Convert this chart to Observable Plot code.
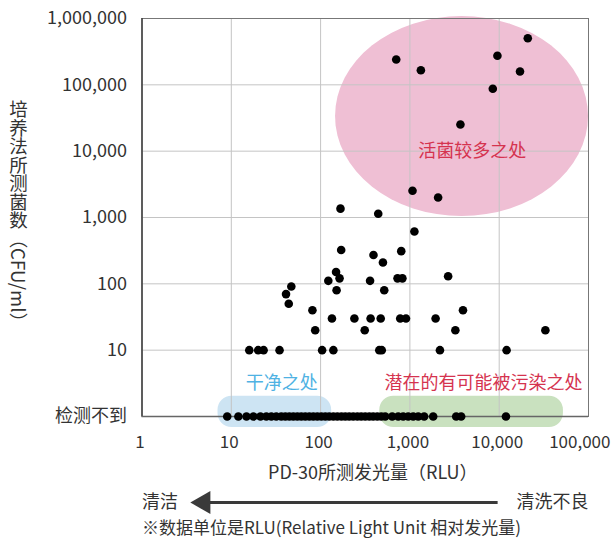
<!DOCTYPE html>
<html><head><meta charset="utf-8">
<script src="https://cdn.jsdelivr.net/npm/d3@7"></script>
<script src="https://cdn.jsdelivr.net/npm/@observablehq/plot@0.6"></script>
<style>
body{margin:0;background:#fff;}
#chart svg{display:block;overflow:visible;}
</style></head><body><div id="chart"></div>
<script>
const FONT = '"Noto Sans CJK SC","Noto Sans",sans-serif';

// axis ticks
const xTicks = [1, 10, 100, 1000, 10000, 100000];
const yTicks = [1, 10, 100, 1000, 10000, 100000, 1000000];
const notDetectedLabel = "检测不到";

// detected samples: RLU (x) vs CFU/ml (y)
const detectedRLU = [703, 1327, 9550, 20900, 17100, 8480, 3680, 1070, 2070, 167, 442, 1123,
  170, 391, 800, 499, 149, 163, 122, 358, 727, 824, 2680, 151, 516,
  47, 41, 44, 81, 87, 134, 239, 363, 471, 779, 904, 312, 3930, 1940, 3230, 32900,
  2170, 12100, 15.9, 20, 23, 34.7, 104, 139, 454, 484];
const detectedCFU = [241000, 166000, 274000, 505000, 159000, 87200, 25200, 2530, 2000, 1360, 1140, 615,
  324, 272, 311, 210, 151, 121, 111, 111, 121, 121, 130, 80, 80,
  91, 70, 50, 40, 20, 30, 30, 30, 30, 30, 30, 20, 40, 30, 20, 20,
  10, 10, 10, 10, 10, 10, 10, 10, 10, 10];

// not detected samples (plotted on the 检测不到 row)
const notDetectedRLU = [9, 12, 14.8, 17.7, 21.2, 24.7, 28.1, 31.9, 36.3, 40.3, 44.7, 49.5, 54.9,
  60.8, 67.4, 74.8, 82.9, 91.9, 102, 113, 125, 139, 154, 171, 189, 209, 232, 258, 285, 316,
  351, 388, 431, 478, 529, 634, 740, 841, 957, 1089, 1239, 1445, 1823, 3300, 3750, 11900];

// annotated regions
const manyBacteria = {x1: 147, x2: 100000, y1: 1035, y2: 1070000, fill: "#efbfd4"};
const cleanZone = {x1: 7.1, x2: 133, y1: 0.68, y2: 2.02, fill: "#cde4f3"};
const riskZone = {x1: 460, x2: 52400, y1: 0.68, y2: 2.02, fill: "#c9e1bf"};

const regionLabels = [
  {x: 5000, y: 10000, text: "活菌较多之处", color: "#d5334f"},
  {x: 36.8, y: 3.15, text: "干净之处", color: "#4fb2e3"},
  {x: 6690, y: 3.15, text: "潜在的有可能被污染之处", color: "#d5334f"}
];

const xTitle = "PD-30所测发光量（RLU）";
const yTitle = "培养法所测菌数（CFU/ml）";
const leftArrowText = "清洁";
const rightArrowText = "清洗不良";
const footnote = "※数据单位是RLU(Relative Light Unit 相对发光量)";
const arrow = [{y: 1, from: 9725, to: 5.13, head: 4.91}];

const detected = detectedRLU.map((x, i) => ({x, y: detectedCFU[i]}));
const notDetected = notDetectedRLU.map(x => ({x, y: 1}));

const svgNS = "http://www.w3.org/2000/svg";
function ellipseRegion(r) {
  return (index, {x, y}) => {
    const x1 = x(r.x1), x2 = x(r.x2), y1 = y(r.y1), y2 = y(r.y2);
    const el = document.createElementNS(svgNS, "ellipse");
    el.setAttribute("cx", (x1 + x2) / 2);
    el.setAttribute("cy", (y1 + y2) / 2);
    el.setAttribute("rx", Math.abs(x2 - x1) / 2);
    el.setAttribute("ry", Math.abs(y2 - y1) / 2);
    el.setAttribute("fill", r.fill);
    return el;
  };
}
function roundedRegion(r) {
  return (index, {x, y}) => {
    const x1 = x(r.x1), x2 = x(r.x2), y1 = y(r.y1), y2 = y(r.y2);
    const el = document.createElementNS(svgNS, "rect");
    el.setAttribute("x", Math.min(x1, x2));
    el.setAttribute("y", Math.min(y1, y2));
    el.setAttribute("width", Math.abs(x2 - x1));
    el.setAttribute("height", Math.abs(y2 - y1));
    el.setAttribute("rx", 14);
    el.setAttribute("fill", r.fill);
    return el;
  };
}

const fmt = d3.format(",");
const lastX = xTicks[xTicks.length - 1];
const chart = Plot.plot({
  width: 616,
  height: 538,
  marginLeft: 141.5,
  marginRight: 28,
  marginTop: 18,
  marginBottom: 122,
  style: {fontFamily: FONT, fontSize: "17px", color: "#333", background: "#fff", overflow: "visible"},
  x: {type: "log", domain: [1, 100000], label: null},
  y: {type: "log", domain: [1, 1000000], label: null},
  marks: [
    ellipseRegion(manyBacteria),
    roundedRegion(cleanZone),
    roundedRegion(riskZone),
    Plot.gridX(xTicks, {stroke: "#c4c4c4", strokeOpacity: 1, strokeWidth: 1}),
    Plot.gridY(yTicks, {stroke: "#c4c4c4", strokeOpacity: 1, strokeWidth: 1}),
    Plot.frame({stroke: "#777"}),
    Plot.ruleX([1], {stroke: "#333", strokeWidth: 1.3}),
    Plot.ruleY([1], {stroke: "#666", strokeWidth: 1.3}),
    Plot.axisY({ticks: yTicks, tickSize: 0, tickPadding: 15, fontSize: 18, fill: "#333",
      tickFormat: d => d === 1 ? notDetectedLabel : fmt(d), label: null}),
    Plot.axisX({ticks: xTicks.slice(0, -1), tickSize: 0, tickPadding: 19, fontSize: 17, fill: "#333",
      dx: -2, tickFormat: d => fmt(d), label: null}),
    Plot.text([lastX], {x: d => d, y: 1, text: d => fmt(d), dy: 26, dx: 22, textAnchor: "end", fontSize: 17, fill: "#333"}),
    Plot.dot(notDetected, {x: "x", y: "y", r: 4.3, fill: "#000"}),
    Plot.dot(detected, {x: "x", y: "y", r: 4.3, fill: "#000"}),
    Plot.text(regionLabels, {x: "x", y: "y", text: "text", fill: "color", fontSize: 18}),
    Plot.text([xTitle], {x: 384, y: 1, text: d => d, dy: 57, fontSize: 18, fill: "#333"}),
    Plot.ruleY(arrow, {y: "y", x1: "from", x2: "to", dy: 86, stroke: "#3a3a3a", strokeWidth: 3}),
    Plot.dot(arrow, {x: "head", y: "y", dy: 86, symbol: "triangle", rotate: -90, r: 8.6, fill: "#3a3a3a", stroke: "none"}),
    Plot.text([leftArrowText], {x: 1, y: 1, text: d => d, dy: 86, textAnchor: "start", fontSize: 18, fill: "#333"}),
    Plot.text([rightArrowText], {x: 100000, y: 1, text: d => d, dy: 86, textAnchor: "end", fontSize: 18, fill: "#333"}),
    Plot.text([footnote], {x: 1, y: 1, text: d => d, dy: 112, textAnchor: "start", fontSize: 17, fill: "#333"}),
    Plot.text([yTitle], {frameAnchor: "left", y: 1072, text: d => d, dx: -123.5, textAnchor: "middle", fontSize: 18.5, fill: "#333"})
  ]
});
document.getElementById("chart").appendChild(chart);
d3.select(chart).selectAll("text").filter(function() { return this.textContent === yTitle; })
  .style("writing-mode", "vertical-rl").attr("text-anchor", "middle").attr("y", null).attr("dy", null);
</script>
</body></html>
